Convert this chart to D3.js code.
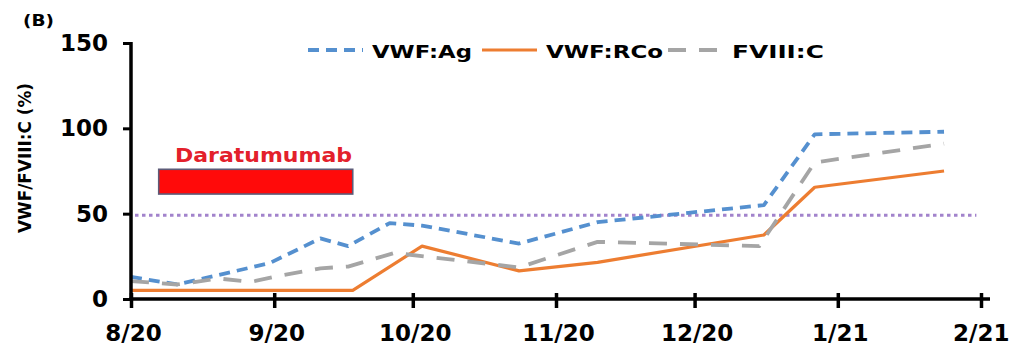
<!DOCTYPE html>
<html>
<head>
<meta charset="utf-8">
<script src="https://cdn.jsdelivr.net/npm/d3@7"></script>
<style>
  html, body { margin: 0; padding: 0; background: #fff; }
  svg { display: block; }
  text { font-family: "DejaVu Sans", "Liberation Sans", sans-serif; font-weight: bold; }
</style>
</head>
<body>
<svg id="chart" width="1010" height="354"></svg>
<script>
// ---- data ---------------------------------------------------------------
// VWF antigen (%)
const agDates  = ["2020-08-01","2020-08-11","2020-08-31","2020-09-11","2020-09-17","2020-09-26","2020-10-03","2020-10-24","2020-11-10","2020-12-16","2020-12-27","2021-01-24"];
const agValues = [13, 8.5, 21, 35.5, 31, 44.5, 43, 32.5, 45, 55, 96.5, 98];

// VWF ristocetin cofactor activity (%)
const rcoDates  = ["2020-08-01","2020-09-18","2020-10-03","2020-10-24","2020-11-10","2020-12-16","2020-12-27","2021-01-24"];
const rcoValues = [5, 5, 31, 16.5, 21.5, 37.5, 65.5, 75];

// Factor VIII coagulant activity (%)
const f8Dates  = ["2020-08-01","2020-08-11","2020-08-20","2020-08-27","2020-09-01","2020-09-11","2020-09-17","2020-09-27","2020-10-24","2020-11-10","2020-12-15","2020-12-27","2021-01-24"];
const f8Values = [10.5, 8.5, 12, 10, 13, 18, 19, 27, 18.5, 33.5, 31, 80, 91];

// treatment period and its vertical band (in % units)
const treatmentName   = "Daratumumab";
const treatmentPeriod = ["2020-08-07", "2020-09-18"];
const treatmentBand   = [61.5, 76];

// reference level
const thresholdValue = 49;
const thresholdEnd   = "2021-01-31";

// axes
const xTickDates  = ["2020-08-01","2020-09-01","2020-10-01","2020-11-01","2020-12-01","2021-01-01","2021-02-01"];
const xTickLabels = ["8/20","9/20","10/20","11/20","12/20","1/21","2/21"];
const yTickValues = [0, 50, 100, 150];
const yTitle = "VWF/FVIII:C (%)";
const panelLabel = "(B)";

// ---- setup --------------------------------------------------------------
const parse = d3.utcParse("%Y-%m-%d");
const svg = d3.select("#chart");

const x = d3.scaleUtc()
  .domain([parse(xTickDates[0]), parse(xTickDates[xTickDates.length - 1])])
  .range([131, 981]);
const y = d3.scaleLinear().domain([0, 150]).range([299, 43]);

const series = [
  { name: "VWF:Ag",  dates: agDates,  values: agValues,  color: "#5590cf", width: 3.8, dash: "11,7",  legendX: 308, textW: 100 },
  { name: "VWF:RCo", dates: rcoDates, values: rcoValues, color: "#ed7d31", width: 3.2, dash: null,    legendX: 482, textW: 117 },
  { name: "FVIII:C", dates: f8Dates,  values: f8Values,  color: "#a5a5a5", width: 3.8, dash: "18,13", legendX: 668, textW: 92 }
];

// ---- reference line -----------------------------------------------------
svg.append("line")
  .attr("x1", x.range()[0] + 4).attr("x2", x(parse(thresholdEnd)))
  .attr("y1", y(thresholdValue)).attr("y2", y(thresholdValue))
  .attr("stroke", "#a283cc").attr("stroke-width", 3)
  .attr("stroke-dasharray", "3.5,3.5");

// ---- treatment bar ------------------------------------------------------
svg.append("rect")
  .attr("x", x(parse(treatmentPeriod[0])))
  .attr("width", x(parse(treatmentPeriod[1])) - x(parse(treatmentPeriod[0])))
  .attr("y", y(treatmentBand[1]))
  .attr("height", y(treatmentBand[0]) - y(treatmentBand[1]))
  .attr("fill", "#ff0a0a").attr("stroke", "#5d5b78").attr("stroke-width", 1.6);

svg.append("text")
  .attr("x", 175).attr("y", 162)
  .attr("font-size", 20).attr("fill", "#e3202b")
  .attr("textLength", 177).attr("lengthAdjust", "spacingAndGlyphs")
  .text(treatmentName);

// ---- series lines -------------------------------------------------------
const line = d3.line().x(d => x(d.date)).y(d => y(d.value));

series.forEach(s => {
  const pts = s.dates.map((d, i) => ({ date: parse(d), value: s.values[i] }));
  svg.append("path")
    .datum(pts)
    .attr("d", line)
    .attr("fill", "none")
    .attr("stroke", s.color)
    .attr("stroke-width", s.width)
    .attr("stroke-linejoin", "round")
    .attr("stroke-dasharray", s.dash);
});

// ---- axes ---------------------------------------------------------------
const yAxis = svg.append("g")
  .attr("transform", `translate(${x.range()[0]},0)`)
  .call(d3.axisLeft(y).tickValues(yTickValues).tickSize(8).tickSizeOuter(0).tickPadding(15));
yAxis.select(".domain").remove();
yAxis.selectAll(".tick line").attr("stroke", "#000").attr("stroke-width", 3);
yAxis.selectAll(".tick text").attr("font-size", 23).attr("fill", "#000")
  .attr("font-family", "DejaVu Sans, sans-serif").attr("font-weight", "bold");
svg.append("line")
  .attr("x1", x.range()[0]).attr("x2", x.range()[0])
  .attr("y1", y(150) - 1).attr("y2", y(0))
  .attr("stroke", "#000").attr("stroke-width", 3.5);

const xAxis = svg.append("g")
  .attr("transform", `translate(0,${y(0)})`)
  .call(d3.axisBottom(x)
    .tickValues(xTickDates.map(parse))
    .tickFormat((d, i) => xTickLabels[i])
    .tickSize(9).tickSizeOuter(0));
xAxis.select(".domain").remove();
xAxis.selectAll(".tick line").attr("y1", -6).attr("stroke", "#000").attr("stroke-width", 3.5);
xAxis.selectAll(".tick text").attr("y", 26).attr("x", 2).attr("font-size", 23).attr("fill", "#000")
  .attr("font-family", "DejaVu Sans, sans-serif").attr("font-weight", "bold");
// keep the last month label inside the frame
xAxis.selectAll(".tick text").filter((d, i, n) => i === n.length - 1)
  .attr("text-anchor", "end").attr("x", 28);
svg.append("line")
  .attr("x1", x.range()[0] - 1.5).attr("x2", x.range()[1] + 9)
  .attr("y1", y(0)).attr("y2", y(0))
  .attr("stroke", "#000").attr("stroke-width", 3.5);

// axis title
svg.append("text")
  .attr("transform", "translate(31,158) rotate(-90)")
  .attr("text-anchor", "middle")
  .attr("font-size", 17).attr("fill", "#000")
  .attr("textLength", 150).attr("lengthAdjust", "spacingAndGlyphs")
  .text(yTitle);

// panel label
svg.append("text")
  .attr("x", 23).attr("y", 26)
  .attr("font-size", 16).attr("fill", "#000")
  .attr("textLength", 31).attr("lengthAdjust", "spacingAndGlyphs")
  .text(panelLabel);

// ---- legend -------------------------------------------------------------
series.forEach(s => {
  svg.append("line")
    .attr("x1", s.legendX).attr("x2", s.legendX + 55)
    .attr("y1", 50).attr("y2", 50)
    .attr("stroke", s.color).attr("stroke-width", s.width)
    .attr("stroke-dasharray", s.dash);
  svg.append("text")
    .attr("x", s.legendX + 64).attr("y", 58)
    .attr("font-size", 18.5).attr("fill", "#000")
    .attr("textLength", s.textW).attr("lengthAdjust", "spacingAndGlyphs")
    .text(s.name);
});
</script>
</body>
</html>
